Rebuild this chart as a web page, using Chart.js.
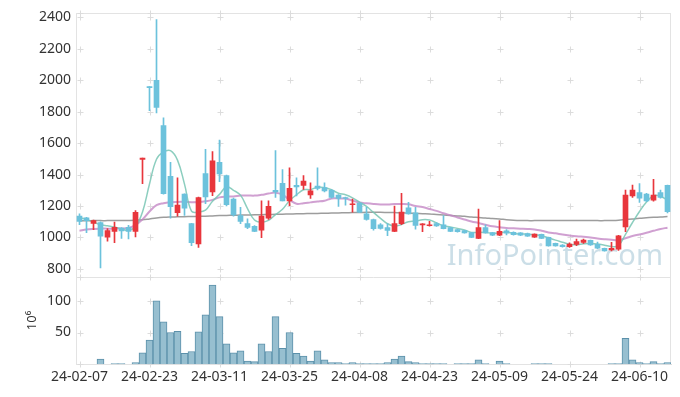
<!DOCTYPE html>
<html>
<head>
<meta charset="utf-8">
<script src="https://cdn.jsdelivr.net/npm/chart.js@4.4.1/dist/chart.umd.min.js"></script>
<style>
  html, body { margin: 0; padding: 0; background: #fff; }
  #wrap { width: 680px; height: 397px; }
</style>
</head>
<body>
<div id="wrap"><canvas id="stockChart"></canvas></div>
<script>
'use strict'
const dates = [
  '24-02-07','24-02-08','24-02-13','24-02-14','24-02-15','24-02-16','24-02-19','24-02-20','24-02-21','24-02-22',
  '24-02-23','24-02-26','24-02-27','24-02-28','24-02-29','24-03-04','24-03-05','24-03-06','24-03-07','24-03-08',
  '24-03-11','24-03-12','24-03-13','24-03-14','24-03-15','24-03-18','24-03-19','24-03-20','24-03-21','24-03-22',
  '24-03-25','24-03-26','24-03-27','24-03-28','24-03-29','24-04-01','24-04-02','24-04-03','24-04-04','24-04-05',
  '24-04-08','24-04-09','24-04-11','24-04-12','24-04-15','24-04-16','24-04-17','24-04-18','24-04-19','24-04-22',
  '24-04-23','24-04-24','24-04-25','24-04-26','24-04-29','24-04-30','24-05-02','24-05-03','24-05-07','24-05-08',
  '24-05-09','24-05-10','24-05-13','24-05-14','24-05-16','24-05-17','24-05-20','24-05-21','24-05-22','24-05-23',
  '24-05-24','24-05-27','24-05-28','24-05-29','24-05-30','24-05-31','24-06-03','24-06-04','24-06-05','24-06-07',
  '24-06-10','24-06-11','24-06-12','24-06-13','24-06-14'
];
const opens = [
  1136,1125,1089,1094,1002,1039,1060,1064,1039,1496,
  1960,2000,1712,1388,1158,1275,1088,958,1406,1289,
  1477,1394,1244,1139,1088,1071,1046,1123,1300,1344,
  1233,1331,1331,1271,1327,1317,1300,1269,1254,1208,
  1219,1150,1114,1081,1062,1039,1088,1188,1156,1080,
  1075,1088,1081,1062,1050,1044,1031,994,1062,1031,
  1014,1042,1033,1029,1025,1002,1019,1000,962,952,
  942,956,969,981,956,931,921,925,1067,1264,
  1286,1275,1237,1286,1331
];
const highs = [
  1150,1128,1110,1100,1056,1098,1062,1077,1171,1504,
  1960,2385,1761,1478,1379,1277,1090,1256,1560,1546,
  1619,1396,1250,1192,1119,1075,1233,1233,1552,1431,
  1442,1379,1394,1348,1442,1348,1305,1272,1256,1244,
  1222,1192,1116,1088,1088,1200,1281,1223,1192,1088,
  1102,1095,1139,1065,1052,1046,1033,1181,1080,1033,
  1108,1050,1036,1031,1027,1023,1021,1002,964,954,
  965,989,990,983,970,933,969,1013,1302,1333,
  1342,1280,1369,1302,1333
];
const lows = [
  1081,1030,1050,806,977,967,994,990,1004,1342,
  1806,1792,1275,1123,1136,1140,948,936,1215,1266,
  1355,1200,1135,1088,1056,1036,998,1114,1255,1233,
  1202,1264,1306,1248,1302,1289,1250,1198,1206,1161,
  1158,1110,1046,1052,1011,1036,1081,1148,1052,1036,
  1072,1070,1054,1036,1034,1027,998,992,1027,1012,
  1012,1016,1014,1012,1006,1000,992,944,944,938,
  936,948,962,950,929,912,915,917,1036,1254,
  1223,1228,1230,1250,1156
];
const closes = [
  1102,1106,1108,1008,1044,1064,1042,1039,1160,1504,
  1953,1827,1278,1196,1206,1186,967,1254,1258,1487,
  1404,1208,1144,1102,1064,1039,1136,1198,1290,1233,
  1312,1321,1358,1296,1311,1296,1254,1248,1248,1214,
  1161,1114,1056,1058,1044,1088,1162,1150,1077,1086,
  1080,1073,1056,1039,1036,1029,1000,1062,1029,1014,
  1039,1027,1017,1014,1008,1021,994,946,946,942,
  958,973,983,952,931,914,931,1011,1269,1302,
  1250,1233,1269,1254,1164
];
const ma5 = [
  1125,1115,1098,1082,1074,1066,1053,1045,1070,1162,
  1340,1497,1544,1552,1492,1339,1167,1162,1174,1230,
  1274,1322,1300,1269,1184,1111,1097,1108,1145,1179,
  1234,1271,1303,1304,1320,1316,1303,1281,1271,1252,
  1225,1197,1159,1121,1087,1072,1082,1100,1104,1113,
  1111,1093,1074,1067,1057,1047,1032,1033,1031,1027,
  1029,1034,1025,1022,1021,1017,1011,997,983,970,
  957,953,960,962,959,951,942,948,1020,1095,
  1165,1225,1265,1262,1236
];
const ma20 = [
  1042,1050,1054,1056,1056,1056,1057,1060,1078,1115,
  1165,1205,1218,1224,1226,1226,1224,1225,1230,1239,
  1255,1260,1261,1266,1267,1266,1271,1279,1285,1272,
  1239,1214,1218,1223,1228,1234,1248,1248,1247,1234,
  1222,1217,1213,1210,1209,1212,1213,1211,1200,1193,
  1181,1169,1154,1141,1127,1114,1101,1092,1081,1071,
  1065,1060,1058,1056,1054,1051,1043,1032,1026,1019,
  1013,1008,1004,1000,994,989,985,983,995,1009,
  1019,1030,1042,1054,1062
];
const ma60 = [
  1106,1106,1107,1107,1107,1108,1108,1108,1109,1112,
  1118,1124,1128,1130,1131,1132,1133,1134,1135,1137,
  1139,1140,1141,1142,1143,1144,1145,1146,1147,1148,
  1149,1150,1151,1152,1153,1154,1155,1156,1157,1158,
  1159,1160,1160,1160,1159,1158,1157,1155,1153,1151,
  1149,1146,1143,1140,1137,1134,1130,1127,1124,1120,
  1117,1113,1110,1108,1107,1107,1107,1107,1107,1107,
  1107,1107,1107,1107,1107,1107,1108,1110,1114,1118,
  1122,1125,1128,1130,1133
];
// volume in millions
const volumes = [
  0,0,0,8,0,1,1,0,2.5,18,
  38,100,67,50,52,17,20,51,78,125,
  75,32,18,21,5,4,32,20,75,25,
  50,17,13,5,21,7,2.5,2.5,1,2.5,
  1,1,1,1,2.5,8,13,4,2.5,1,
  1,1,1,0,1,1,1,7,1,0,
  5,1,0,0,0,1,1,1,0,0,
  0,0,0,0,0,0,1,1,41,7,
  2.5,1,4,1,2.5
];
const priceTicks = [800, 1000, 1200, 1400, 1600, 1800, 2000, 2200, 2400];
const volumeTicks = [50, 100];

const upColor = '#e8363c';
const downColor = '#6cc2dc';
const candleColors = closes.map((c, i) => c >= opens[i] ? upColor : downColor);

Chart.defaults.font.family = "'Noto Sans', sans-serif";
Chart.defaults.color = '#333';

const chartDecor = {
  id: 'chartDecor',
  beforeDatasetsDraw(chart) {
    const {ctx, chartArea: area, scales} = chart;
    ctx.save();
    // watermark
    ctx.font = '29px "Noto Sans"';
    ctx.fillStyle = 'rgba(175,204,218,0.65)';
    ctx.textAlign = 'right';
    ctx.textBaseline = 'alphabetic';
    ctx.fillText('InfoPointer.com', area.right - 8, scales.y.bottom - 12);
    // frame
    ctx.strokeStyle = '#e3e3e3';
    ctx.lineWidth = 1;
    ctx.strokeRect(Math.round(area.left) + 0.5, Math.round(area.top) + 0.5,
      Math.round(area.width) - 1, Math.round(area.height));
    const sep = Math.round(scales.y.bottom) + 0.5;
    ctx.beginPath();
    ctx.moveTo(area.left, sep);
    ctx.lineTo(area.right, sep);
    ctx.stroke();
    // small crosses at grid intersections
    const ys = priceTicks.map(v => scales.y.getPixelForValue(v))
      .concat(volumeTicks.map(v => scales.yv.getPixelForValue(v)), [scales.y.bottom, area.top, area.bottom]);
    ctx.strokeStyle = '#dcdcdc';
    ctx.beginPath();
    dates.forEach((d, i) => {
      if (i % 10 !== 0) return;
      const x = Math.round(scales.x.getPixelForValue(i)) + 0.5;
      ys.forEach(y0 => {
        const y = Math.round(y0) + 0.5;
        ctx.moveTo(x - 3, y); ctx.lineTo(x + 3, y);
        ctx.moveTo(x, y - 3); ctx.lineTo(x, y + 3);
      });
    });
    ctx.stroke();
    ctx.restore();
  }
};

const ctx = document.getElementById('stockChart').getContext('2d');
const stockChart = new Chart(ctx, {
  type: 'bar',
  data: {
    labels: dates,
    datasets: [
      {
        label: 'volume',
        data: volumes,
        yAxisID: 'yv',
        backgroundColor: '#97bfd0',
        borderColor: '#5b90aa',
        borderWidth: {top: 1, left: 1, right: 1, bottom: 0},
        barPercentage: 1,
        categoryPercentage: 1,
        grouped: false,
        order: 4,
      },
      {
        label: 'body',
        data: opens.map((o, i) => [o, closes[i]]),
        yAxisID: 'y',
        backgroundColor: candleColors,
        barThickness: 5,
        grouped: false,
        order: 1,
      },
      {
        label: 'wick',
        data: lows.map((l, i) => [l, highs[i]]),
        yAxisID: 'y',
        backgroundColor: candleColors,
        barThickness: 1,
        grouped: false,
        order: 2,
      },
      {
        type: 'line',
        label: 'MA5',
        data: ma5,
        yAxisID: 'y',
        borderColor: 'rgba(120,198,180,0.85)',
        borderWidth: 1.5,
        pointRadius: 0,
        tension: 0.4,
        order: 3,
      },
      {
        type: 'line',
        label: 'MA20',
        data: ma20,
        yAxisID: 'y',
        borderColor: 'rgba(196,136,198,0.8)',
        borderWidth: 2,
        pointRadius: 0,
        tension: 0.4,
        order: 3,
      },
      {
        type: 'line',
        label: 'MA60',
        data: ma60,
        yAxisID: 'y',
        borderColor: 'rgba(140,140,140,0.85)',
        borderWidth: 1.5,
        pointRadius: 0,
        tension: 0.4,
        order: 3,
      },
    ],
  },
  options: {
    animation: false,
    responsive: true,
    maintainAspectRatio: false,
    layout: { padding: { top: 11, right: 9, bottom: 8, left: 0 } },
    plugins: {
      legend: { display: false },
      tooltip: { enabled: false },
    },
    scales: {
      x: {
        grid: { display: false, drawTicks: false },
        border: { color: '#dcdcdc' },
        ticks: {
          autoSkip: false,
          maxRotation: 0,
          padding: 4,
          font: { size: 14 },
          color: '#333',
          callback: (v, i) => i % 10 === 0 ? dates[i] : null,
        },
      },
      yv: {
        type: 'linear',
        position: 'left',
        stack: 'panes',
        stackWeight: 89,
        min: 0,
        max: 138,
        afterBuildTicks: s => { s.ticks = volumeTicks.map(v => ({value: v})); },
        afterFit: s => { s.width = 76; },
        grid: { display: false, drawTicks: false },
        border: { color: '#e3e3e3' },
        ticks: { autoSkip: false, padding: 5, font: { size: 14 }, color: '#333', callback: v => String(v) },
        title: {
          display: true,
          text: '10⁶',
          font: { size: 13 },
          color: '#333',
          padding: { top: 24, bottom: 0 },
        },
      },
      y: {
        type: 'linear',
        position: 'left',
        stack: 'panes',
        stackWeight: 268,
        min: 750,
        max: 2425,
        afterBuildTicks: s => { s.ticks = priceTicks.map(v => ({value: v})); },
        afterFit: s => { s.width = 76; },
        grid: { display: false, drawTicks: false },
        border: { color: '#e3e3e3' },
        ticks: { autoSkip: false, padding: 5, font: { size: 14 }, color: '#333', callback: v => String(v) },
      },
    },
  },
  plugins: [chartDecor],
});
</script>
</body>
</html>
